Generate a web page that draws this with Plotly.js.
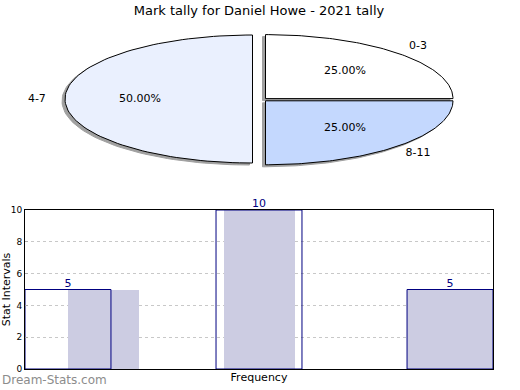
<!DOCTYPE html>
<html>
<head>
<meta charset="utf-8">
<script src="https://cdn.plot.ly/plotly-3.0.1.min.js"></script>
<style>html,body{margin:0;padding:0;background:#fff;}#chart{width:520px;height:390px;}</style>
</head>
<body>
<div id="chart"></div>
<script>
// ---- data ----
var chartTitle = 'Mark tally for Daniel Howe - 2021 tally';
var pieLabels = ['0-3', '4-7', '8-11'];
var pieValues = [25, 50, 25];
var barCategories = [0, 1, 2];
var barValues = [5, 10, 5];
var barText = ['5', '10', '5'];
var yTickVals = [0, 2, 4, 6, 8, 10];
var yTitle = 'Stat Intervals';
var xTitle = 'Frequency';
var watermark = 'Dream-Stats.com';

// ---- layout geometry ----
var W = 520, H = 390;
var M = {l: 25, r: 27, t: 20, b: 21};
var plotH = H - M.t - M.b;
var pieDomain = [0.5, 1];
var pieYTop = M.t;
var pieYBottom = M.t + plotH * (1 - pieDomain[0]);

// pie (drawn as elliptical wedges in pixel space)
var pieColors = ['#ffffff', '#eaf0fe', '#c4d8fe'];
var pieA = 187.5, pieB = 64;
var pieCenters = [[265.5, 98.6], [252.5, 99], [265.5, 100.8]];
var shadowOff = [-3, 2];

var traces = [];
var total = pieValues.reduce(function (s, v) { return s + v; }, 0);
var start = 0;
var slices = [];
pieValues.forEach(function (v, i) {
  var sweep = v / total * 360;
  var a0 = start, a1 = start + sweep;
  var c = pieCenters[i];
  var xs = [c[0]], ys = [c[1]];
  var n = 90;
  for (var k = 0; k <= n; k++) {
    var t = (a0 + (a1 - a0) * k / n) * Math.PI / 180;
    xs.push(c[0] + pieA * Math.cos(t));
    ys.push(c[1] - pieB * Math.sin(t));
  }
  xs.push(c[0]); ys.push(c[1]);
  var mid = (a0 + a1) / 2 * Math.PI / 180;
  slices.push({xs: xs, ys: ys, mid: mid, c: c, i: i, v: v});
  start = a1;
});
// shadows
slices.forEach(function (s) {
  traces.push({
    type: 'scatter', mode: 'lines', xaxis: 'x2', yaxis: 'y2',
    x: s.xs.map(function (x) { return x + shadowOff[0]; }),
    y: s.ys.map(function (y) { return y + shadowOff[1]; }),
    fill: 'toself', fillcolor: '#a0a0a0', line: {color: '#a0a0a0', width: 1},
    hoverinfo: 'skip', showlegend: false
  });
});
// slices
slices.forEach(function (s) {
  traces.push({
    type: 'scatter', mode: 'lines', xaxis: 'x2', yaxis: 'y2',
    x: s.xs, y: s.ys,
    fill: 'toself', fillcolor: pieColors[s.i], line: {color: '#000000', width: 1},
    hoverinfo: 'skip', showlegend: false
  });
});
// pie labels
traces.push({
  type: 'scatter', mode: 'text', xaxis: 'x2', yaxis: 'y2', cliponaxis: false,
  x: slices.map(function (s) { return s.c[0] + 0.6 * pieA * Math.cos(s.mid); }),
  y: slices.map(function (s) { return s.c[1] - 0.6 * pieB * Math.sin(s.mid); }),
  text: slices.map(function (s) { return (s.v / total * 100).toFixed(2) + '%'; }),
  textfont: {family: 'DejaVu Sans', size: 11, color: '#000'},
  hoverinfo: 'skip', showlegend: false
});
traces.push({
  type: 'scatter', mode: 'text', xaxis: 'x2', yaxis: 'y2', cliponaxis: false,
  x: slices.map(function (s) { return s.c[0] + 1.15 * pieA * Math.cos(s.mid); }),
  y: slices.map(function (s) { return s.c[1] - 1.15 * pieB * Math.sin(s.mid); }),
  text: pieLabels,
  textfont: {family: 'DejaVu Sans', size: 11, color: '#000'},
  hoverinfo: 'skip', showlegend: false
});

// bars: filled (lavender) and outlined (navy)
traces.push({
  type: 'bar', x: barCategories, y: barValues,
  width: [0.372, 0.372, 0.45], offset: [0, -0.183, -0.225],
  marker: {color: '#ccccE2', line: {width: 0}},
  hoverinfo: 'skip', showlegend: false
});
traces.push({
  type: 'bar', x: barCategories, y: barValues,
  width: 0.45,
  marker: {color: 'rgba(0,0,0,0)', line: {color: '#000080', width: 1}},
  hoverinfo: 'skip', showlegend: false
});
// value labels sitting on the bar tops
traces.push({
  type: 'scatter', mode: 'text', x: barCategories, y: barValues,
  text: barText, textposition: 'top center', cliponaxis: false,
  textfont: {family: 'DejaVu Sans', size: 11, color: '#000080'},
  hoverinfo: 'skip', showlegend: false
});

var layout = {
  width: W, height: H,
  margin: M,
  paper_bgcolor: '#fff', plot_bgcolor: 'rgba(0,0,0,0)',
  barmode: 'overlay',
  bargap: 0,
  title: {text: chartTitle, font: {family: 'DejaVu Sans', size: 13, color: '#000'},
          x: 0.5, xanchor: 'center', xref: 'paper', y: 1 - 10 / H, yanchor: 'middle'},
  xaxis: {domain: [0, 1], range: [-0.225, 2.225], showticklabels: false, ticks: '',
          showgrid: false, zeroline: false, showline: true, mirror: true, linecolor: '#000', linewidth: 1,
          title: {text: xTitle, font: {family: 'DejaVu Sans', size: 11, color: '#000'}, standoff: 4}},
  yaxis: {domain: [0, (369 - 210) / plotH], range: [0, 10], tickvals: yTickVals,
          ticks: 'inside', ticklen: 3, tickcolor: '#aaa', tickfont: {family: 'DejaVu Sans', size: 9, color: '#000'},
          showgrid: true, gridcolor: '#c8c8c8', griddash: 'dot', gridwidth: 1,
          zeroline: false, showline: true, mirror: true, linecolor: '#000', linewidth: 1,
          title: {text: yTitle, font: {family: 'DejaVu Sans', size: 11, color: '#000'}, standoff: 2}},
  xaxis2: {domain: [0, 1], anchor: 'y2', range: [M.l, W - M.r], visible: false, fixedrange: true},
  yaxis2: {domain: pieDomain, anchor: 'x2', range: [pieYBottom, pieYTop], visible: false, fixedrange: true},
  annotations: [{
    text: watermark, xref: 'paper', yref: 'paper',
    x: -M.l / (W - M.l - M.r), xanchor: 'left',
    y: -(380 - 369) / plotH, yanchor: 'middle', showarrow: false,
    font: {family: 'DejaVu Sans', size: 12, color: '#8c8c8c'}
  }]
};

Plotly.newPlot('chart', traces, layout, {staticPlot: true, displayModeBar: false});
</script>
</body>
</html>
